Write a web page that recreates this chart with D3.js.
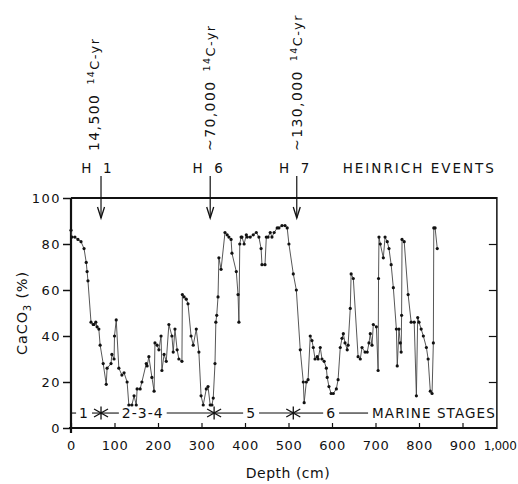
<!DOCTYPE html>
<html>
<head>
<meta charset="utf-8">
<script src="https://cdn.jsdelivr.net/npm/d3@7"></script>
<style>
  body { margin: 0; background: #fff; }
  text { font-family: "DejaVu Sans", sans-serif; fill: #111; }
</style>
</head>
<body>
<svg id="chart" width="518" height="484"></svg>
<script>
// core depth (cm) and CaCO3 (%)
const depth = [0, 2, 9, 16, 23, 30, 35, 37, 39, 46, 51, 53, 57, 60, 64, 67, 74, 81, 83, 92,
  94, 99, 100, 104, 110, 117, 122, 129, 133, 140, 145, 150, 152, 159, 163, 173, 175, 179, 186, 191,
  193, 198, 202, 207, 209, 214, 219, 225, 232, 235, 239, 244, 248, 255, 256, 260, 265, 269, 276, 281,
  288, 294, 299, 304, 311, 315, 320, 324, 327, 331, 333, 335, 338, 340, 345, 354, 359, 363, 368, 370,
  380, 384, 386, 388, 391, 393, 398, 403, 405, 412, 419, 426, 432, 437, 439, 446, 449, 453, 458, 462,
  467, 474, 478, 485, 492, 497, 501, 511, 518, 527, 534, 536, 541, 545, 550, 554, 557, 561, 566, 568,
  573, 577, 582, 587, 589, 593, 598, 603, 610, 614, 619, 623, 626, 630, 635, 637, 642, 644, 649, 660,
  665, 669, 676, 681, 685, 688, 692, 695, 702, 706, 707, 708, 711, 718, 722, 727, 731, 736, 741, 748,
  750, 754, 757, 759, 760, 761, 766, 775, 782, 789, 794, 797, 800, 805, 810, 817, 821, 826, 830, 833,
  834, 837, 842]
const caco3 = [86, 83, 83, 82, 81, 78, 72, 68, 64, 46, 45, 45, 46, 44, 43, 36, 28, 19, 26, 28,
  32, 30, 40, 47, 26, 23, 24, 20, 10, 10, 14, 10, 17, 17, 20, 28, 27, 31, 22, 16,
  37, 36, 34, 40, 25, 32, 29, 45, 40, 33, 43, 34, 30, 29, 58, 57, 56, 54, 40, 36,
  43, 33, 14, 10, 17, 18, 10, 10, 13, 28, 46, 49, 57, 74, 69, 85, 84, 83, 82, 76,
  68, 58, 46, 80, 83, 83, 80, 84, 83, 83, 84, 85, 83, 78, 71, 71, 83, 83, 85, 83,
  85, 87, 87, 88, 88, 87, 80, 67, 60, 34, 20, 11, 20, 21, 40, 38, 35, 30, 31, 30,
  35, 30, 29, 26, 22, 18, 15, 15, 17, 21, 35, 39, 41, 37, 34, 36, 52, 67, 65, 31,
  30, 35, 33, 33, 37, 41, 36, 45, 44, 25, 65, 83, 80, 74, 83, 81, 78, 71, 61, 43,
  27, 43, 37, 33, 49, 82, 81, 58, 46, 46, 14, 48, 46, 43, 40, 35, 30, 16, 15, 37,
  87, 87, 78]

const heinrichNames = ["H 1", "H 6", "H 7"]
const heinrichDepth = [69, 320, 519]
const heinrichAge = ["14,500", "~70,000", "~130,000"]

const stageNames = ["1", "2-3-4", "5", "6"]
const stageNameDepth = [30, 165, 414, 598]
const stageBounds = [69, 329, 511]
const stageLevel = 6.5

const xTicks = [0, 100, 200, 300, 400, 500, 600, 700, 800, 900, 1000]
const yTicks = [0, 20, 40, 60, 80, 100]
const frameEnd = 979

const svg = d3.select("#chart")
const x = d3.scaleLinear().domain([0, 1000]).range([71, 506])
const y = d3.scaleLinear().domain([0, 100]).range([428, 198])
const xr = x(frameEnd)

// left axis
const yAxis = svg.append("g")
  .attr("transform", `translate(${x(0)},0)`)
  .call(d3.axisLeft(y).tickValues(yTicks).tickSize(8).tickSizeOuter(0).tickPadding(2))
yAxis.select(".domain").remove()
yAxis.selectAll("line").attr("stroke", "#111").attr("stroke-width", 1.5)
yAxis.selectAll("text").style("font-size", "13px").style("letter-spacing", "1.5px")

// right axis, ticks inward
const rAxis = svg.append("g")
  .attr("transform", `translate(${xr},0)`)
  .call(d3.axisLeft(y).tickValues([20, 40, 60, 80]).tickSize(8).tickFormat(""))
rAxis.select(".domain").remove()
rAxis.selectAll("line").attr("stroke", "#111").attr("stroke-width", 1.2)

// bottom axis, ticks inward
const xAxis = svg.append("g")
  .attr("transform", `translate(0,${y(0)})`)
  .call(d3.axisBottom(x).tickValues(xTicks).tickSize(-5).tickSizeOuter(0).tickPadding(13)
    .tickFormat(d => d === 1000 ? "1,000" : d))
xAxis.select(".domain").remove()
xAxis.selectAll("line").attr("stroke", "#111").attr("stroke-width", 1.2)
xAxis.selectAll("text").style("font-size", "13px").style("letter-spacing", "0.5px")
const lastTick = xAxis.selectAll(".tick").filter(d => d === 1000)
lastTick.select("line").remove()
lastTick.select("text")
  .attr("text-anchor", "end").attr("dx", "10")
  .style("font-size", "12px").style("letter-spacing", "-0.3px")

// frame
const frame = svg.append("g").attr("stroke", "#111").attr("fill", "none")
frame.append("line").attr("x1", x(0)).attr("x2", x(0)).attr("y1", y(100)).attr("y2", y(0) + 5).attr("stroke-width", 2.2)
frame.append("line").attr("x1", x(0) - 2).attr("x2", xr).attr("y1", y(0)).attr("y2", y(0)).attr("stroke-width", 2.2)
frame.append("line").attr("x1", x(0)).attr("x2", xr).attr("y1", y(100)).attr("y2", y(100)).attr("stroke-width", 1.8)
frame.append("line").attr("x1", xr).attr("x2", xr).attr("y1", y(100) - 1).attr("y2", y(0) + 1).attr("stroke-width", 1.5)

// axis titles
svg.append("text")
  .attr("transform", `translate(27,${(y(0) + y(100)) / 2}) rotate(-90)`)
  .attr("text-anchor", "middle")
  .style("font-size", "14.5px").style("letter-spacing", "0.8px")
  .call(t => {
    t.append("tspan").text("CaCO")
    t.append("tspan").attr("dy", 4).style("font-size", "10px").text("3")
    t.append("tspan").attr("dy", -4).text(" (%)")
  })

svg.append("text")
  .attr("x", 288).attr("y", 478)
  .attr("text-anchor", "middle")
  .style("font-size", "14px").style("letter-spacing", "0.5px")
  .text("Depth (cm)")

// CaCO3 curve
const pts = depth.map((d, i) => [d, caco3[i]])
svg.append("path")
  .datum(pts)
  .attr("fill", "none")
  .attr("stroke", "#444")
  .attr("stroke-width", 0.9)
  .attr("d", d3.line().x(d => x(d[0])).y(d => y(d[1])))

svg.append("g")
  .selectAll("circle")
  .data(pts).enter()
  .append("circle")
  .attr("cx", d => x(d[0]))
  .attr("cy", d => y(d[1]))
  .attr("r", 1.6)
  .attr("fill", "#111")

// Heinrich events
const hv = svg.append("g")
heinrichDepth.forEach((d, i) => {
  const hx = x(d)
  hv.append("line").attr("x1", hx).attr("x2", hx).attr("y1", 176).attr("y2", 218)
    .attr("stroke", "#111").attr("stroke-width", 1.2)
  hv.append("path")
    .attr("d", `M${hx - 3.5},207 L${hx},218 L${hx + 3.5},207`)
    .attr("fill", "none").attr("stroke", "#111").attr("stroke-width", 1.3)
  hv.append("text")
    .attr("x", hx - (i === 0 ? 4 : 2)).attr("y", 173)
    .attr("text-anchor", "middle")
    .style("font-size", "13.5px").style("letter-spacing", "1px")
    .attr("xml:space", "preserve")
    .text(heinrichNames[i].replace(" ", "  "))
  const lab = hv.append("text")
    .attr("transform", `translate(${hx + (i === 0 ? -2 : 5)},151) rotate(-90)`)
    .style("font-size", "14px").style("letter-spacing", "1.4px")
  lab.append("tspan").text(heinrichAge[i])
  lab.append("tspan").attr("dx", 9).attr("dy", -5).style("font-size", "9.5px").text("14")
  lab.append("tspan").attr("dy", 5).style("font-size", "13px").text("C-yr")
})
hv.append("text")
  .attr("x", xr - 1).attr("y", 173)
  .attr("text-anchor", "end")
  .style("font-size", "13.5px").style("letter-spacing", "2px")
  .text("HEINRICH EVENTS")

// marine stages
const sy = y(stageLevel)
const st = svg.append("g")
const labs = stageNames.map((s, i) =>
  st.append("text")
    .attr("x", x(stageNameDepth[i])).attr("y", sy + 5)
    .attr("text-anchor", "middle")
    .style("font-size", "14px").style("letter-spacing", "1px")
    .text(s).node().getBBox())
const marine = st.append("text")
  .attr("x", xr - 1).attr("y", sy + 5)
  .attr("text-anchor", "end")
  .style("font-size", "13.5px").style("letter-spacing", "1.1px")
  .text("MARINE STAGES").node().getBBox()

const ax = stageBounds.map(x)
const segs = [
  [x(0), labs[0].x - 3],
  [labs[0].x + labs[0].width + 3, ax[0]],
  [ax[0], labs[1].x - 3],
  [labs[1].x + labs[1].width + 3, ax[1]],
  [ax[1], labs[2].x - 3],
  [labs[2].x + labs[2].width + 3, ax[2]],
  [ax[2], labs[3].x - 3],
  [labs[3].x + labs[3].width + 3, marine.x - 4]
]
st.selectAll("line.seg").data(segs).enter().append("line")
  .attr("class", "seg")
  .attr("x1", d => d[0]).attr("x2", d => d[1])
  .attr("y1", sy).attr("y2", sy)
  .attr("stroke", "#111").attr("stroke-width", 1.1)
ax.forEach(a => {
  st.append("path")
    .attr("d", `M${a - 7},${sy - 4} L${a},${sy} L${a - 7},${sy + 4} M${a + 7},${sy - 4} L${a},${sy} L${a + 7},${sy + 4} M${a},${sy - 6.5} L${a},${sy + 6.5}`)
    .attr("fill", "none").attr("stroke", "#111").attr("stroke-width", 1.3)
})
</script>
</body>
</html>
